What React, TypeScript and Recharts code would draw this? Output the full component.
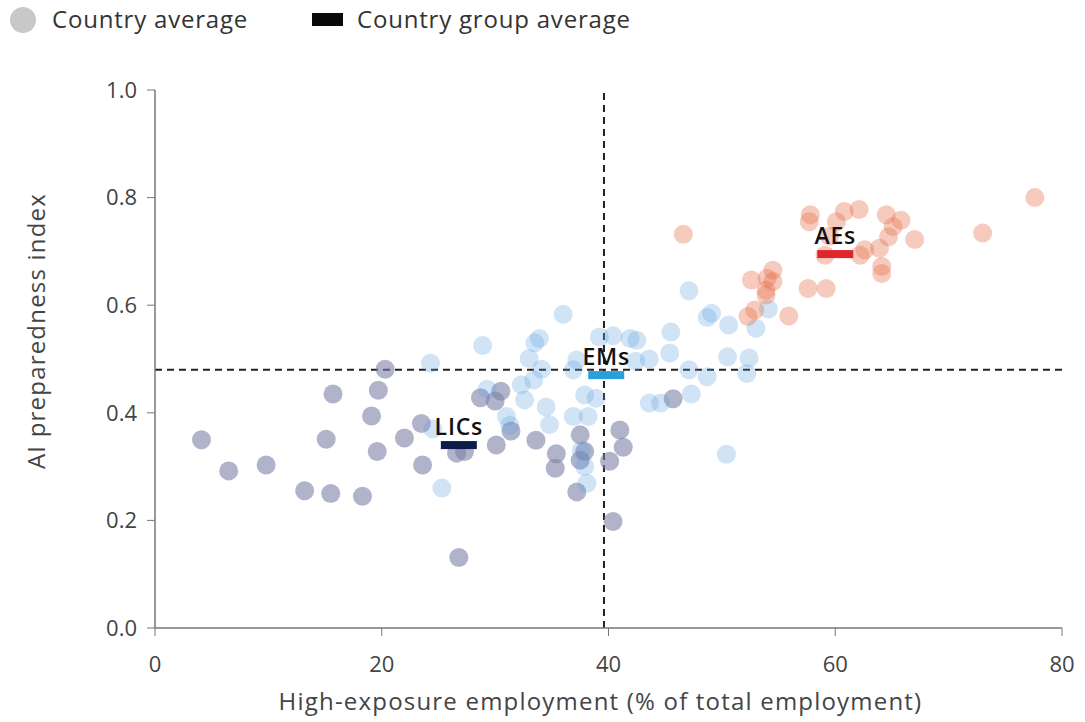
import React from 'react'
import {
  ScatterChart,
  Scatter,
  XAxis,
  YAxis,
  ReferenceLine,
  Label,
} from 'recharts'

// Low-income countries
const licX = [4.1, 6.5, 9.8, 13.2, 15.5, 18.3, 15.1, 15.7, 19.1, 19.7, 20.3, 19.6, 22.0, 23.6, 23.5, 26.6, 27.3, 30.5, 28.7, 30.0, 31.4, 30.1, 33.6, 35.4, 35.3, 37.5, 37.9, 37.5, 37.2, 40.1, 41.0, 41.3, 45.7, 26.8, 40.4]
const licY = [0.35, 0.292, 0.303, 0.255, 0.25, 0.245, 0.351, 0.435, 0.394, 0.442, 0.481, 0.328, 0.353, 0.303, 0.38, 0.325, 0.328, 0.44, 0.428, 0.422, 0.366, 0.34, 0.349, 0.324, 0.297, 0.359, 0.328, 0.312, 0.253, 0.31, 0.368, 0.336, 0.426, 0.131, 0.198]

// Emerging markets
const emX = [24.3, 25.3, 28.9, 36.0, 33.5, 33.9, 33.0, 34.1, 33.4, 32.3, 29.3, 32.6, 34.5, 31.0, 31.3, 34.8, 37.9, 38.9, 36.9, 38.2, 37.2, 39.2, 40.4, 41.9, 42.5, 42.4, 47.1, 48.7, 49.1, 50.6, 53.0, 54.1, 45.5, 45.4, 43.6, 50.5, 52.4, 52.2, 47.1, 48.7, 47.3, 43.6, 44.6, 50.4, 37.9, 38.1, 36.9, 24.5, 37.6]
const emY = [0.492, 0.26, 0.525, 0.583, 0.53, 0.538, 0.501, 0.481, 0.461, 0.452, 0.444, 0.424, 0.411, 0.393, 0.377, 0.378, 0.433, 0.427, 0.393, 0.393, 0.498, 0.541, 0.543, 0.538, 0.535, 0.496, 0.627, 0.577, 0.585, 0.563, 0.557, 0.593, 0.55, 0.511, 0.5, 0.504, 0.502, 0.473, 0.48, 0.467, 0.435, 0.418, 0.418, 0.323, 0.30, 0.269, 0.48, 0.37, 0.33]

// Advanced economies
const aeX = [77.6, 73.0, 46.6, 57.8, 57.7, 60.1, 60.8, 62.1, 64.5, 65.8, 65.1, 64.7, 67.0, 63.9, 62.6, 62.2, 59.1, 64.1, 64.1, 59.5, 54.5, 52.6, 54.0, 54.5, 53.9, 53.9, 57.6, 59.2, 52.9, 52.3, 55.9]
const aeY = [0.80, 0.734, 0.732, 0.768, 0.755, 0.755, 0.774, 0.778, 0.768, 0.758, 0.746, 0.727, 0.722, 0.706, 0.703, 0.693, 0.693, 0.672, 0.659, 0.728, 0.665, 0.647, 0.65, 0.644, 0.628, 0.619, 0.631, 0.631, 0.591, 0.579, 0.58]

// Country group averages
const groupNames = ['LICs', 'EMs', 'AEs']
const groupX = [26.8, 39.8, 60.0]
const groupY = [0.34, 0.47, 0.695]

const xTicks = [0, 20, 40, 60, 80]
const yTicks = [0, 0.2, 0.4, 0.6, 0.8, 1.0]
const medianX = 39.6
const medianY = 0.48

const toPoints = (xs: number[], ys: number[]) => xs.map((x, i) => ({ x, y: ys[i] }))
const licData = toPoints(licX, licY)
const emData = toPoints(emX, emY)
const aeData = toPoints(aeX, aeY)
const groupData = groupNames.map((name, i) => ({ name, x: groupX[i], y: groupY[i] }))

const groupColors = ['#0b1c48', '#2a9fd8', '#e0252b']
const font = '"Open Sans", sans-serif'

const dot = (fill: string, opacity: number) => (props: any) => (
  <circle cx={props.cx} cy={props.cy} r={9.5} fill={fill} fillOpacity={opacity} />
)

const GroupMark = (props: any) => {
  const { cx, cy, index } = props
  return (
    <g>
      <rect x={cx - 18} y={cy - 4} width={36} height={8} fill={groupColors[index]} />
      <text x={cx} y={cy - 10} textAnchor="middle" fontSize={23} fontWeight={600} fill="#111" letterSpacing={0.8}>
        {groupNames[index]}
      </text>
    </g>
  )
}

const legendText: React.CSSProperties = { position: 'absolute', top: 3, fontSize: 24, letterSpacing: 0.8, color: '#333', lineHeight: '32px' }

export default function App() {
  return (
    <div style={{ position: 'absolute', left: 0, top: 0, width: 1085, height: 722, background: '#fff', fontFamily: font }}>
      <div style={{ position: 'absolute', left: 10, top: 7, width: 26, height: 26, borderRadius: 13, background: '#c8c8c8' }} />
      <div style={{ ...legendText, left: 52 }}>Country average</div>
      <div style={{ position: 'absolute', left: 312, top: 13, width: 31, height: 13, background: '#0a0a0a' }} />
      <div style={{ ...legendText, left: 357 }}>Country group average</div>
      <ScatterChart width={1085} height={722} margin={{ top: 90, right: 23, bottom: 0, left: 0 }}>
        <XAxis
          type="number"
          dataKey="x"
          domain={[0, 80]}
          ticks={xTicks}
          height={94}
          tick={{ fill: '#444', fontSize: 22 }}
          tickLine={{ stroke: '#777' }}
          axisLine={{ stroke: '#777', strokeWidth: 1.5 }}
          tickSize={8}
          tickMargin={20}
        >
          <Label value="High-exposure employment (% of total employment)" position="insideBottom" offset={12} dx={-8} fill="#444" fontSize={24} letterSpacing={1.2} />
        </XAxis>
        <YAxis
          type="number"
          dataKey="y"
          domain={[0, 1]}
          ticks={yTicks}
          width={155}
          tick={{ fill: '#444', fontSize: 22 }}
          tickFormatter={(v: number) => v.toFixed(1)}
          tickLine={{ stroke: '#777' }}
          axisLine={{ stroke: '#777', strokeWidth: 1.5 }}
          tickSize={8}
          tickMargin={10}
        >
          <Label value="AI preparedness index" angle={-90} position="insideLeft" offset={36} dy={-28} fill="#444" fontSize={24} letterSpacing={1.2} style={{ textAnchor: 'middle' }} />
        </YAxis>
        <Scatter data={licData} shape={dot('#7d80a6', 0.6)} isAnimationActive={false} />
        <Scatter data={emData} shape={dot('#5a9fe0', 0.28)} isAnimationActive={false} />
        <Scatter data={aeData} shape={dot('#e8734f', 0.38)} isAnimationActive={false} />
        <ReferenceLine x={medianX} stroke="#222" strokeWidth={2} strokeDasharray="7 5" />
        <ReferenceLine y={medianY} stroke="#222" strokeWidth={2} strokeDasharray="7 5" />
        <Scatter data={groupData} shape={GroupMark} isAnimationActive={false} />
      </ScatterChart>
    </div>
  )
}
